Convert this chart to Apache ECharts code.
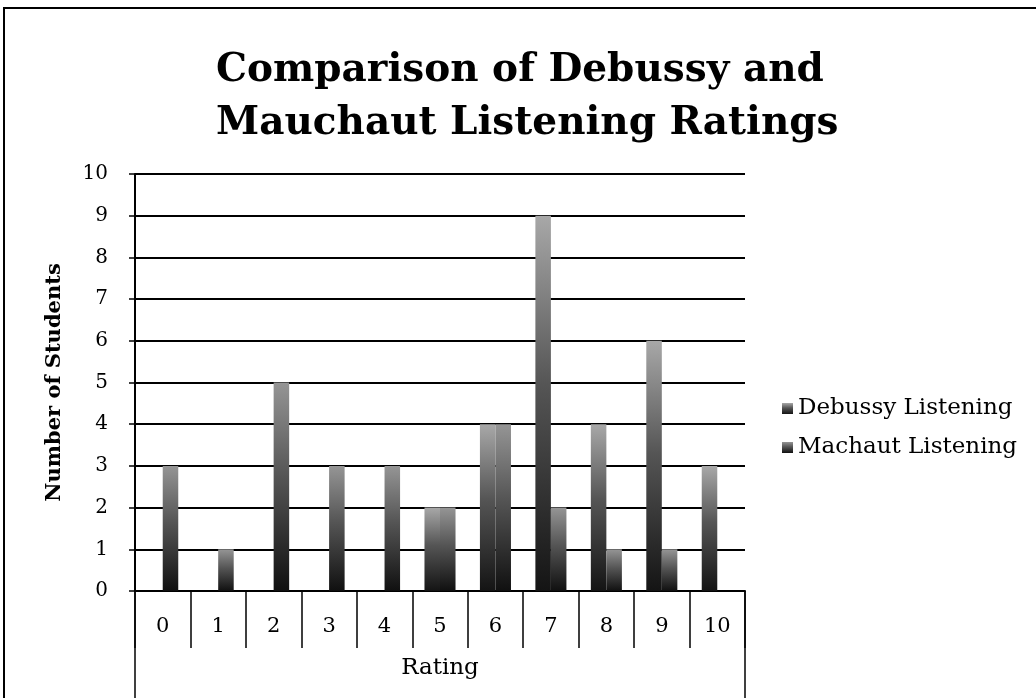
<!DOCTYPE html>
<html>
<head>
<meta charset="utf-8">
<script src="https://cdn.jsdelivr.net/npm/echarts@6/dist/echarts.min.js"></script>
<style>html,body{margin:0;padding:0;background:#fff}#c{width:1036px;height:698px}</style>
</head>
<body>
<div id="c"></div>
<script>
const categories = ['0','1','2','3','4','5','6','7','8','9','10'];
const debussy = [0,0,0,0,0,2,4,9,4,6,3];
const machaut = [3,1,5,3,3,2,4,2,1,1,0];
const seriesNames = ['Debussy Listening','Machaut Listening'];
const titleText = 'Comparison of Debussy and\nMauchaut Listening Ratings';
const xName = 'Rating';
const yName = 'Number of Students';

const W = 1036, H = 698;
const G = {left:135, right:291, top:174, bottom:107};
const serif = '"DejaVu Serif",serif';

function grad(top, bottom){
  return new echarts.graphic.LinearGradient(0,0,0,1,[{offset:0,color:top},{offset:0.45,color:'#555'},{offset:1,color:bottom}]);
}

const chart = echarts.init(document.getElementById('c'), null, {renderer:'canvas'});
const axisX0 = G.left, axisX1 = W - G.right, axisY = H - G.bottom;
chart.setOption({
  backgroundColor:'#fff',
  animation:false,
  title:{
    text:titleText, left:211, top:39,
    textAlign:'left',
    textStyle:{fontFamily:serif, fontWeight:'bold', fontSize:39, lineHeight:53, color:'#000', align:'center'}
  },
  legend:{
    orient:'vertical', left:777, top:392, itemGap:16, itemWidth:11, itemHeight:11, icon:'rect',
    textStyle:{fontFamily:serif, fontSize:23, color:'#000'},
    data:seriesNames
  },
  grid:G,
  xAxis:{
    type:'category', data:categories,
    axisLine:{lineStyle:{color:'#000', width:2}},
    axisTick:{show:true, interval:0, alignWithLabel:false, length:57, lineStyle:{color:'#000', width:1.5}},
    axisLabel:{margin:25, fontFamily:serif, fontSize:21, color:'#000'},
    name:xName, nameLocation:'middle', nameGap:66,
    nameTextStyle:{fontFamily:serif, fontSize:23, color:'#000'}
  },
  yAxis:{
    type:'value', min:0, max:10, interval:1,
    axisLine:{show:true, lineStyle:{color:'#000', width:2}},
    axisTick:{show:true, length:6, lineStyle:{color:'#000', width:1.5}},
    splitLine:{lineStyle:{color:'#000', width:2}},
    axisLabel:{margin:27, fontFamily:serif, fontSize:20, color:'#000'},
    name:yName, nameLocation:'middle', nameGap:70, nameRotate:90,
    nameTextStyle:{fontFamily:serif, fontSize:21, fontWeight:'bold', color:'#000'}
  },
  series:[
    {name:seriesNames[0], type:'bar', data:debussy, barGap:'0%', barCategoryGap:'44%',
     itemStyle:{color:grad('#a8a8a8','#141414')}},
    {name:seriesNames[1], type:'bar', data:machaut, barGap:'0%', barCategoryGap:'44%',
     itemStyle:{color:grad('#959595','#101010')}}
  ],
  graphic:[
    {type:'rect', shape:{x:4, y:8, width:W+10, height:H+10}, style:{fill:'none', stroke:'#000', lineWidth:2}, silent:true},
    {type:'line', shape:{x1:axisX0, y1:axisY, x2:axisX0, y2:H}, style:{stroke:'#000', lineWidth:1.5}},
    {type:'line', shape:{x1:axisX1, y1:axisY, x2:axisX1, y2:H}, style:{stroke:'#000', lineWidth:1.5}}
  ]
});
</script>
</body>
</html>
